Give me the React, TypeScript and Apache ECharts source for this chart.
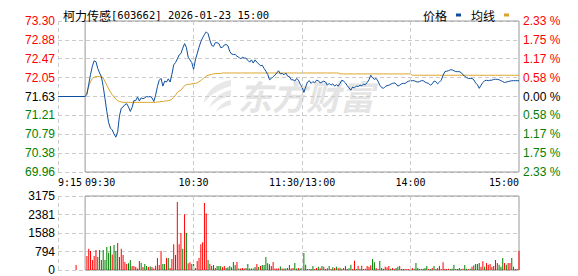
import React, { useEffect, useRef } from "react";
import * as echarts from "echarts";

const stockTitle = "柯力传感";
const stockCode = "[603662] 2026-01-23 15:00";
const seriesNames = ["价格", "均线"];
const preClose = 71.63;
const preMarketTime = -15;
const auctionTime = -5;
const auctionVolume = 215;

const priceTicks = ["69.96", "70.38", "70.79", "71.21", "71.63", "72.05", "72.47", "72.88", "73.30"];
const pctTicks = ["2.33 %", "1.75 %", "1.17 %", "0.58 %", "0.00 %", "0.58 %", "1.17 %", "1.75 %", "2.33 %"];
const volTicks = ["0", "794", "1588", "2381", "3175"];
const labelTimes = [-15, 0, 60, 120, 180, 240];
const labelTexts = ["9:15", "09:30", "10:30", "11:30/13:00", "14:00", "15:00"];
const gridTimes = [-15, 60, 120, 180];

// minute 0 = 09:30 ... 120 = 11:30/13:00 ... 240 = 15:00
const prices = [
  71.63, 71.68, 71.90, 72.12, 72.30, 72.42, 72.40, 72.25, 72.15, 72.07,
  71.85, 71.58, 71.30, 71.05, 70.93, 70.89, 70.80, 70.73, 70.85, 71.20,
  71.37, 71.40, 71.45, 71.47, 71.40, 71.30, 71.39, 71.54, 71.54, 71.62,
  71.53, 71.60, 71.58, 71.60, 71.63, 71.62, 71.63, 71.60, 71.52, 71.66,
  71.85, 71.99, 72.03, 71.86, 71.97, 71.95, 72.02, 71.95, 72.12, 72.33,
  72.38, 72.46, 72.55, 72.58, 72.70, 72.80, 72.72, 72.50, 72.44, 72.38,
  72.23, 72.44, 72.58, 72.72, 72.84, 72.93, 73.00, 73.06, 73.02, 72.88,
  72.76, 72.74, 72.82, 72.82, 72.80, 72.71, 72.72, 72.77, 72.78, 72.75,
  72.63, 72.57, 72.56, 72.56, 72.52, 72.50, 72.46, 72.50, 72.48, 72.48,
  72.43, 72.39, 72.44, 72.37, 72.44, 72.39, 72.35, 72.31, 72.32, 72.25,
  72.19, 72.12, 72.00, 72.03, 72.07, 72.10, 72.15, 72.20, 72.13, 72.14,
  72.11, 72.15, 72.08, 72.07, 72.00, 72.00, 71.97, 72.03, 71.99, 71.90,
  71.84, 71.72, 71.84, 71.95, 71.98, 71.92, 71.96, 71.93, 71.99, 71.98,
  71.93, 71.95, 71.97, 71.95, 71.88, 71.92, 71.88, 71.91, 71.86, 71.89,
  71.86, 71.92, 71.99, 71.97, 71.93, 71.87, 71.82, 71.77, 71.84, 71.82,
  71.86, 71.85, 71.88, 71.87, 71.90, 71.89, 71.94, 72.00, 72.10, 72.04,
  72.01, 72.03, 71.97, 71.88, 71.83, 71.81, 71.85, 71.87, 71.88, 71.90,
  71.92, 71.93, 71.91, 71.86, 71.88, 71.91, 71.92, 71.92, 71.95, 71.97,
  71.98, 71.98, 71.98, 71.96, 71.95, 71.96, 71.98, 71.98, 71.95, 71.93,
  71.92, 71.88, 71.91, 71.97, 71.96, 71.91, 71.95, 71.99, 72.10, 72.18,
  72.19, 72.20, 72.22, 72.22, 72.20, 72.18, 72.18, 72.18, 72.16, 72.11,
  72.08, 72.05, 72.03, 72.03, 72.03, 72.00, 71.93, 71.89, 71.81, 71.88,
  71.94, 71.98, 71.99, 71.98, 71.99, 71.99, 72.01, 72.01, 72.01, 72.00,
  71.98, 71.96, 71.94, 71.95, 71.96, 71.97, 71.98, 71.98, 71.98, 71.98,
  71.98,
];

const avgPrices = [
  71.63, 71.72, 71.85, 71.96, 72.03, 72.06, 72.07, 72.07, 72.07, 72.07,
  72.04, 71.96, 71.88, 71.80, 71.73, 71.67, 71.62, 71.57, 71.54, 71.52,
  71.51, 71.50, 71.50, 71.50, 71.50, 71.50, 71.50, 71.50, 71.50, 71.50,
  71.50, 71.50, 71.50, 71.50, 71.50, 71.50, 71.50, 71.50, 71.50, 71.50,
  71.51, 71.51, 71.52, 71.52, 71.53, 71.53, 71.54, 71.55, 71.57, 71.61,
  71.66, 71.72, 71.75, 71.77, 71.82, 71.87, 71.89, 71.90, 71.90, 71.91,
  71.92, 71.92, 71.93, 71.96, 71.98, 72.02, 72.05, 72.08, 72.10, 72.11,
  72.12, 72.13, 72.14, 72.14, 72.14, 72.14, 72.15, 72.15, 72.15, 72.15,
  72.15, 72.15, 72.15, 72.15, 72.15, 72.15, 72.15, 72.15, 72.15, 72.15,
  72.15, 72.15, 72.15, 72.15, 72.15, 72.15, 72.15, 72.15, 72.15, 72.15,
  72.15, 72.15, 72.15, 72.15, 72.15, 72.15, 72.15, 72.15, 72.15, 72.15,
  72.15, 72.15, 72.15, 72.15, 72.15, 72.15, 72.15, 72.15, 72.15, 72.15,
  72.15, 72.15, 72.15, 72.15, 72.15, 72.15, 72.15, 72.15, 72.15, 72.15,
  72.15, 72.15, 72.15, 72.15, 72.15, 72.15, 72.15, 72.15, 72.15, 72.15,
  72.15, 72.13, 72.13, 72.13, 72.13, 72.13, 72.13, 72.13, 72.13, 72.13,
  72.13, 72.13, 72.13, 72.13, 72.13, 72.13, 72.13, 72.13, 72.13, 72.13,
  72.13, 72.13, 72.13, 72.13, 72.13, 72.13, 72.13, 72.13, 72.13, 72.13,
  72.13, 72.13, 72.13, 72.13, 72.13, 72.13, 72.13, 72.13, 72.13, 72.13,
  72.13, 72.10, 72.10, 72.10, 72.10, 72.10, 72.10, 72.10, 72.10, 72.10,
  72.10, 72.10, 72.10, 72.10, 72.10, 72.10, 72.10, 72.10, 72.10, 72.10,
  72.10, 72.10, 72.10, 72.10, 72.10, 72.10, 72.10, 72.10, 72.10, 72.10,
  72.10, 72.10, 72.10, 72.10, 72.10, 72.10, 72.10, 72.10, 72.10, 72.10,
  72.10, 72.10, 72.10, 72.10, 72.10, 72.10, 72.10, 72.10, 72.10, 72.10,
  72.10, 72.10, 72.10, 72.10, 72.10, 72.10, 72.10, 72.10, 72.10, 72.10,
  72.10,
];

// volume for minutes 1..240
const volumes = [
  600, 915, 815, 430, 600, 860, 560, 860, 430, 860,
  430, 990, 745, 1030, 670, 1070, 815, 1160, 560, 915,
  645, 345, 260, 285, 430, 170, 170, 130, 60, 385,
  315, 130, 260, 170, 130, 145, 130, 60, 185, 515,
  215, 815, 260, 260, 515, 515, 85, 470, 1100, 645,
  2920, 1100, 1590, 915, 2390, 1590, 285, 330, 260, 260,
  85, 385, 515, 1100, 1190, 2875, 2420, 430, 260, 170,
  215, 85, 170, 170, 170, 115, 170, 85, 115, 170,
  115, 345, 215, 345, 60, 60, 85, 60, 85, 260,
  60, 60, 60, 130, 260, 130, 170, 215, 215, 560,
  285, 245, 170, 345, 60, 60, 60, 145, 60, 60,
  60, 85, 215, 60, 85, 300, 60, 85, 60, 85,
  730,
  229, 43, 43, 43, 172, 43, 86, 143, 72, 172,
  143, 43, 72, 172, 43, 114, 86, 143, 72, 100,
  57, 86, 172, 43, 72, 229, 43, 400, 43, 186,
  43, 186, 43, 57, 172, 143, 200, 472, 329, 86,
  43, 386, 86, 57, 143, 114, 172, 57, 86, 43,
  86, 143, 172, 43, 43, 43, 43, 43, 43, 86,
  57, 300, 86, 43, 43, 57, 86, 172, 43, 43,
  86, 172, 43, 86, 172, 43, 329, 57, 43, 57,
  43, 57, 215, 43, 43, 86, 43, 57, 215, 57,
  43, 57, 143, 200, 257, 257, 300, 143, 372, 143,
  300, 229, 257, 143, 172, 429, 300, 229, 143, 515,
  300, 229, 300, 300, 515, 143, 43, 43, 830,
];

// 1 = red (up), 0 = green (down)
const volumeUp = [
  1, 1, 1, 1, 1, 1, 0, 0, 1, 0,
  0, 0, 0, 0, 1, 0, 0, 1, 1, 1,
  1, 1, 1, 0, 0, 1, 1, 1, 0, 1,
  0, 1, 0, 0, 1, 0, 1, 1, 1, 1,
  1, 1, 0, 0, 1, 0, 1, 1, 1, 0,
  1, 1, 1, 0, 1, 0, 1, 1, 0, 0,
  1, 1, 1, 1, 1, 1, 1, 0, 1, 0,
  1, 1, 0, 0, 0, 1, 1, 0, 0, 0,
  0, 0, 0, 1, 0, 1, 1, 1, 0, 0,
  1, 0, 0, 0, 1, 0, 1, 0, 0, 0,
  0, 0, 1, 1, 1, 1, 1, 0, 1, 0,
  0, 1, 0, 1, 1, 0, 0, 1, 0, 0,
  0,
  0, 1, 1, 0, 0, 1, 1, 0, 1, 0,
  1, 1, 1, 0, 1, 0, 1, 0, 1, 0,
  1, 1, 0, 1, 0, 0, 1, 1, 0, 1,
  0, 1, 0, 1, 1, 1, 1, 0, 0, 1,
  1, 0, 0, 0, 1, 1, 1, 0, 1, 1,
  0, 0, 1, 1, 0, 1, 1, 1, 1, 1,
  0, 0, 0, 1, 1, 0, 0, 0, 1, 0,
  1, 0, 1, 1, 0, 1, 1, 1, 1, 1,
  0, 0, 0, 0, 1, 0, 0, 1, 0, 0,
  1, 0, 1, 0, 0, 0, 0, 1, 1, 0,
  1, 1, 1, 1, 1, 1, 1, 0, 0, 0,
  1, 0, 1, 1, 0, 0, 1, 1, 1,
];

const RED = "#ff0000";
const GREEN = "#008000";
const BLUE = "#0e4f9e";
const GOLD = "#dca228";
const DASH = "#cccccc";
const BORDER = "#999999";
const NUM_FONT = "'Liberation Sans', Arial, sans-serif";
const MONO_FONT = "'DejaVu Sans Mono', monospace";
const CJK_FONT = "'Noto Sans CJK SC', sans-serif";

const logoPath =
  "M30 0 C16 2 6 10 2 24 C8 16 16 10 30 6 Z M30 10 C20 12 12 18 8 28 C14 22 20 18 30 16 Z M30 20 C24 21 18 25 15 32 C20 28 24 26 30 25 Z";

export default function App() {
  const ref = useRef<HTMLDivElement>(null);

  useEffect(() => {
    if (!ref.current) return;
    try {
      echarts.graphic.registerShape("emlogo", echarts.graphic.extendPath(logoPath as any, {}) as any);
    } catch (e) {}
    const chart = echarts.init(ref.current, undefined, { renderer: "svg" });

    const pMin = Number(priceTicks[0]);
    const pMax = Number(priceTicks[priceTicks.length - 1]);
    const pStep = (pMax - pMin) / (priceTicks.length - 1);
    const pctMax = 2.33;
    const pctStep = (2 * pctMax) / (pctTicks.length - 1);
    const vMax = Number(volTicks[volTicks.length - 1]);
    const vStep = vMax / (volTicks.length - 1);

    const tickColor = (i: number, mid: number) => (i > mid ? RED : i < mid ? GREEN : "#000");

    const priceData: any[] = [[preMarketTime, preClose], ...prices.map((p, i) => [i, p])];
    const avgData = avgPrices.map((p, i) => [i, p]);
    const volData: any[] = [
      { value: [auctionTime, auctionVolume], itemStyle: { color: RED } },
      ...volumes.map((v, i) => ({ value: [i + 1, v], itemStyle: { color: volumeUp[i] ? RED : GREEN } })),
    ];

    const vLines = () => ({
      silent: true,
      symbol: ["none", "none"],
      label: { show: false },
      emphasis: { disabled: true },
      lineStyle: { color: DASH, type: [4, 3], width: 1 },
      data: gridTimes.map((t) => ({ xAxis: t })),
    });

    const xAxisBase = (gridIndex: number, showLabels: boolean) => ({
      type: "value",
      gridIndex,
      min: preMarketTime,
      max: 240,
      axisLine: { show: false },
      axisTick: { show: false },
      splitLine: { show: false },
      axisLabel: showLabels
        ? {
            customValues: labelTimes,
            alignMinLabel: "left",
            alignMaxLabel: "right",
            margin: 5,
            color: "#000",
            fontFamily: MONO_FONT,
            fontSize: 10,
            formatter: (v: number) => {
              const idx = labelTimes.indexOf(Math.round(v));
              const t = idx >= 0 ? labelTexts[idx] : "";
              return Math.round(v) === 0 ? "{l|" + t + "}" : t;
            },
            rich: {
              l: { padding: [0, 0, 0, 30], fontFamily: MONO_FONT, fontSize: 10, color: "#000" },
            },
          }
        : { show: false },
    });

    const option: any = {
      animation: false,
      backgroundColor: "#fff",
      title: {
        left: 58,
        top: 4,
        text: "{a|" + stockTitle + "}{b|" + stockCode + "}",
        textStyle: {
          fontWeight: "normal",
          rich: {
            a: { fontFamily: CJK_FONT, fontSize: 12, fontWeight: "normal", color: "#000" },
            b: { fontFamily: MONO_FONT, fontSize: 10.5, fontWeight: "normal", color: "#000" },
          },
        },
      },
      legend: {
        data: seriesNames,
        right: 64,
        top: 4,
        align: "right",
        icon: "rect",
        itemWidth: 5,
        itemHeight: 3,
        itemGap: 10,
        selectedMode: false,
        textStyle: { fontFamily: CJK_FONT, fontSize: 12, color: "#000", padding: [0, 4, 0, 0] },
      },
      graphic: [
        {
          type: "emlogo",
          x: 201,
          y: 80,
          scaleX: 1,
          scaleY: 1,
          z: -10,
          silent: true,
          style: { fill: "#e8e8e8" },
        },
        {
          type: "text",
          x: 238,
          y: 78,
          z: -10,
          silent: true,
          style: {
            text: "东方财富",
            fill: "#e4e4e4",
            fontSize: 34,
            fontWeight: "bold",
            fontStyle: "italic",
            fontFamily: CJK_FONT,
          },
        },
      ],
      grid: [
        { left: 58, right: 59, top: 21, height: 151 },
        { left: 58, right: 59, top: 196, height: 74 },
      ],
      xAxis: [xAxisBase(0, true), xAxisBase(1, false)],
      yAxis: [
        {
          type: "value",
          gridIndex: 0,
          position: "left",
          min: pMin,
          max: pMax,
          interval: pStep,
          axisLine: { show: false },
          axisTick: { show: false },
          splitLine: { show: true, lineStyle: { color: DASH, type: [4, 3], width: 1 } },
          axisLabel: {
            margin: 3,
            fontFamily: NUM_FONT,
            fontSize: 12,
            formatter: (v: number) => priceTicks[Math.round((v - pMin) / pStep)] ?? "",
            color: (v: any) => tickColor(Math.round((Number(v) - pMin) / pStep), 4),
          },
        },
        {
          type: "value",
          gridIndex: 0,
          position: "right",
          min: -pctMax,
          max: pctMax,
          interval: pctStep,
          axisLine: { show: false },
          axisTick: { show: false },
          splitLine: { show: false },
          axisLabel: {
            margin: 4,
            fontFamily: NUM_FONT,
            fontSize: 12,
            formatter: (v: number) => pctTicks[Math.round((v + pctMax) / pctStep)] ?? "",
            color: (v: any) => tickColor(Math.round((Number(v) + pctMax) / pctStep), 4),
          },
        },
        {
          type: "value",
          gridIndex: 1,
          position: "left",
          min: 0,
          max: vMax,
          interval: vStep,
          axisLine: { show: false },
          axisTick: { show: false },
          splitLine: { show: true, lineStyle: { color: DASH, type: [4, 3], width: 1 } },
          axisLabel: {
            margin: 3,
            fontFamily: NUM_FONT,
            fontSize: 12,
            color: "#000",
            formatter: (v: number) => volTicks[Math.round(v / vStep)] ?? "",
          },
        },
      ],
      series: [
        {
          name: seriesNames[1],
          type: "line",
          xAxisIndex: 0,
          yAxisIndex: 0,
          data: avgData,
          showSymbol: false,
          symbol: "none",
          lineStyle: { color: GOLD, width: 1 },
          itemStyle: { color: GOLD },
          silent: true,
        },
        {
          name: seriesNames[0],
          type: "line",
          xAxisIndex: 0,
          yAxisIndex: 0,
          data: priceData,
          showSymbol: false,
          symbol: "none",
          lineStyle: { color: BLUE, width: 1 },
          itemStyle: { color: BLUE },
          silent: true,
          markLine: vLines(),
          markArea: {
            silent: true,
            label: { show: false },
            itemStyle: { color: "rgba(0,0,0,0)", borderColor: BORDER, borderWidth: 1 },
            data: [[{ xAxis: 0, yAxis: pMin }, { xAxis: 240, yAxis: pMax }]],
          },
        },
        {
          type: "bar",
          xAxisIndex: 1,
          yAxisIndex: 2,
          data: volData,
          barWidth: 1,
          silent: true,
          markLine: vLines(),
          markArea: {
            silent: true,
            label: { show: false },
            itemStyle: { color: "rgba(0,0,0,0)", borderColor: BORDER, borderWidth: 1 },
            data: [[{ xAxis: 0, yAxis: 0 }, { xAxis: 240, yAxis: vMax }]],
          },
        },
      ],
    };

    chart.setOption(option);
    return () => chart.dispose();
  }, []);

  return (
    <div
      ref={ref}
      style={{ position: "fixed", left: 0, top: 0, width: 578, height: 276, background: "#fff" }}
    />
  );
}
